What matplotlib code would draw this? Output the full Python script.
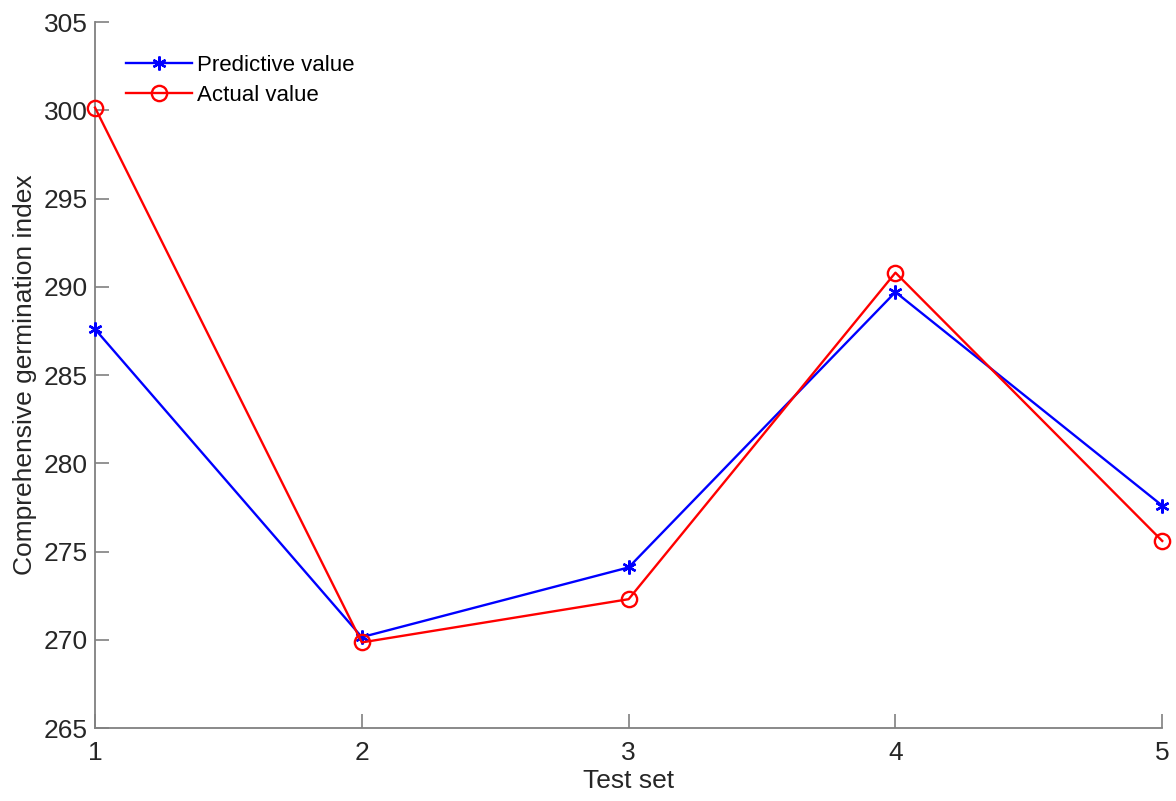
import matplotlib
matplotlib.use("Agg")
import matplotlib.pyplot as plt

plt.rcParams['font.family'] = ['Liberation Sans', 'DejaVu Sans']

test_set = [1, 2, 3, 4, 5]
predictive = [287.6, 270.15, 274.1, 289.7, 277.6]
actual = [300.15, 269.85, 272.3, 290.8, 275.6]
xticks = [1, 2, 3, 4, 5]
yticks = [265, 270, 275, 280, 285, 290, 295, 300, 305]

fig = plt.figure(figsize=(11.76, 8.01), dpi=100)
ax = fig.add_axes([0.0808, 0.0911, 0.9075, 0.8814])

ax.plot(test_set, predictive, color='#0000ff', lw=1.7, marker=(6, 2, 0),
        markersize=10, markeredgewidth=1.7, label='Predictive value', clip_on=False, zorder=3)
ax.plot(test_set, actual, color='#ff0000', lw=1.7, marker='o', markersize=11,
        markerfacecolor='none', markeredgewidth=1.7, label='Actual value', clip_on=False, zorder=3)

ax.set_xlim(1, 5)
ax.set_ylim(265, 305)
ax.set_xticks(xticks)
ax.set_yticks(yticks)
for s in ['top', 'right']:
    ax.spines[s].set_visible(False)
for s in ['left', 'bottom']:
    ax.spines[s].set_color('#808080')
    ax.spines[s].set_linewidth(1.3)
ax.tick_params(direction='in', length=10, width=1.2, color='#808080',
               labelsize=19, labelcolor='#262626')
ax.tick_params(axis='x', pad=9)
ax.tick_params(axis='y', pad=5)
ax.set_xlabel('Test set', fontsize=19, color='#262626', labelpad=3)
ax.set_ylabel('Comprehensive germination index', fontsize=19, color='#262626', labelpad=5)

leg = ax.legend(loc='upper left', bbox_to_anchor=(0.01, 0.982), frameon=False,
                fontsize=16, handlelength=3.0, handletextpad=0.2, labelspacing=0.4)
for t in leg.get_texts():
    t.set_color('#000000')

fig.savefig('out.png', dpi=100)
